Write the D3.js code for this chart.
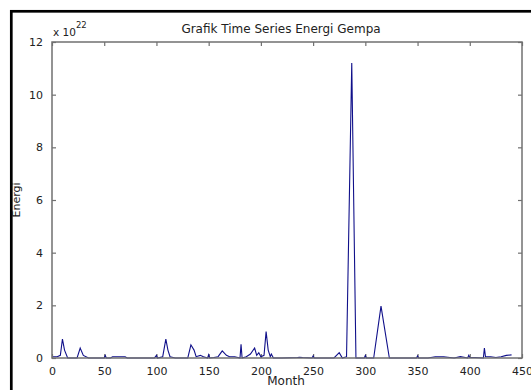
<!DOCTYPE html>
<html lang="en">
  <head>
    <meta charset="UTF-8" />
    <title>Grafik Time Series Energi Gempa</title>
    <script src="https://cdn.jsdelivr.net/npm/d3@7/dist/d3.min.js"></script>
    <style>
      body { margin: 0; background: #fff; }
      text { font-family: "DejaVu Sans", Arial, sans-serif; fill: #222; }
    </style>
  </head>
  <body>
    <div id="wrapper"></div>
    <script>
      // energy values in units of 1e22
      const months = [1, 5, 8, 10, 12, 15, 20, 24, 27, 30, 35, 45, 50, 51, 52, 56, 58, 70, 72, 80,
        98, 100, 101, 106, 109, 111, 113, 118, 125, 130, 133, 136, 138, 142, 145, 149, 150, 151,
        155, 159, 163, 167, 170, 175, 180, 181, 182, 186, 190, 194, 196, 198, 200, 203, 205, 207,
        209, 210, 212, 220, 235, 237, 240, 249, 250, 251, 260, 270, 275, 278, 282, 287, 291, 295,
        299, 300, 301, 308, 315, 323, 330, 349, 350, 351, 360, 367, 375, 385, 391, 398, 399, 400,
        405, 413, 414, 415, 420, 425, 430, 435, 440];
      const energy = [0.05, 0.05, 0.1, 0.72, 0.3, 0, 0, 0, 0.38, 0.1, 0, 0, 0, 0.1, 0, 0, 0.05, 0.05, 0, 0,
        0, 0.1, 0, 0.05, 0.72, 0.3, 0.05, 0, 0, 0, 0.5, 0.3, 0.05, 0.1, 0.05, 0, 0.12, 0,
        0.02, 0.05, 0.27, 0.1, 0.05, 0.05, 0, 0.52, 0, 0.05, 0.15, 0.38, 0.1, 0.2, 0.05, 0.1, 1.0, 0.3,
        0.05, 0.15, 0, 0, 0.02, 0.03, 0.02, 0, 0.08, 0, 0, 0, 0.2, 0, 0.05, 11.2, 0, 0,
        0, 0.1, 0, 0, 1.97, 0, 0, 0, 0.08, 0, 0, 0.05, 0.05, 0, 0.05, 0, 0.1, 0.02,
        0.02, 0, 0.38, 0.05, 0.05, 0.02, 0.05, 0.1, 0.12];
      const xTicks = [0, 50, 100, 150, 200, 250, 300, 350, 400, 450];
      const yTicks = [0, 2, 4, 6, 8, 10, 12];

      const dimensions = {
        width: 531,
        height: 390,
        margin: { left: 52, right: 9, top: 42, bottom: 32 },
      };
      dimensions.boundedWidth = dimensions.width - dimensions.margin.left - dimensions.margin.right;
      dimensions.boundedHeight = dimensions.height - dimensions.margin.top - dimensions.margin.bottom;

      const svg = d3.select("#wrapper")
        .append("svg")
        .attr("width", dimensions.width)
        .attr("height", dimensions.height);

      // outer figure frame
      svg.append("rect")
        .attr("x", 11.3).attr("y", 11.3)
        .attr("width", 540).attr("height", 400)
        .attr("fill", "none").attr("stroke", "#000").attr("stroke-width", 2.7);

      const bounds = svg.append("g")
        .attr("transform", `translate(${dimensions.margin.left},${dimensions.margin.top})`);

      const xScale = d3.scaleLinear().domain([0, 450]).range([0, dimensions.boundedWidth]);
      const yScale = d3.scaleLinear().domain([0, 12]).range([dimensions.boundedHeight, 0]);

      const axisColor = "#707070";
      const styleAxis = (g) => {
        g.select(".domain").remove();
        g.selectAll(".tick line").attr("stroke", axisColor).attr("stroke-width", 1.2);
        g.selectAll(".tick text").attr("font-size", 11).attr("fill", "#222");
      };

      bounds.append("g")
        .attr("transform", `translate(0,${dimensions.boundedHeight})`)
        .call(d3.axisBottom(xScale).tickValues(xTicks).tickSize(-4).tickPadding(9))
        .call(styleAxis);
      bounds.append("g")
        .call(d3.axisTop(xScale).tickValues(xTicks).tickSize(-4).tickFormat(""))
        .call(styleAxis);
      bounds.append("g")
        .call(d3.axisLeft(yScale).tickValues(yTicks).tickSize(-4).tickPadding(9))
        .call(styleAxis);
      bounds.append("g")
        .attr("transform", `translate(${dimensions.boundedWidth},0)`)
        .call(d3.axisRight(yScale).tickValues(yTicks).tickSize(-4).tickFormat(""))
        .call(styleAxis);

      const line = d3.line()
        .x((d, i) => xScale(months[i]))
        .y((d) => yScale(d));

      bounds.append("path")
        .datum(energy)
        .attr("fill", "none")
        .attr("stroke", "#10108a")
        .attr("stroke-width", 1.1)
        .attr("d", line);

      bounds.append("rect")
        .attr("width", dimensions.boundedWidth)
        .attr("height", dimensions.boundedHeight)
        .attr("fill", "none")
        .attr("stroke", axisColor)
        .attr("stroke-width", 1.5);

      // titles
      svg.append("text")
        .attr("x", 281).attr("y", 33)
        .attr("text-anchor", "middle").attr("font-size", 12)
        .text("Grafik Time Series Energi Gempa");

      const expo = svg.append("text").attr("x", 53).attr("y", 36).attr("font-size", 10.5);
      expo.append("tspan").text("x 10");
      expo.append("tspan").attr("dy", -8).attr("font-size", 8.5).text("22");

      svg.append("text")
        .attr("x", 286).attr("y", 385)
        .attr("text-anchor", "middle").attr("font-size", 12)
        .text("Month");

      svg.append("text")
        .attr("transform", "translate(20,200) rotate(-90)")
        .attr("text-anchor", "middle").attr("font-size", 11)
        .text("Energi");
    </script>
  </body>
</html>
